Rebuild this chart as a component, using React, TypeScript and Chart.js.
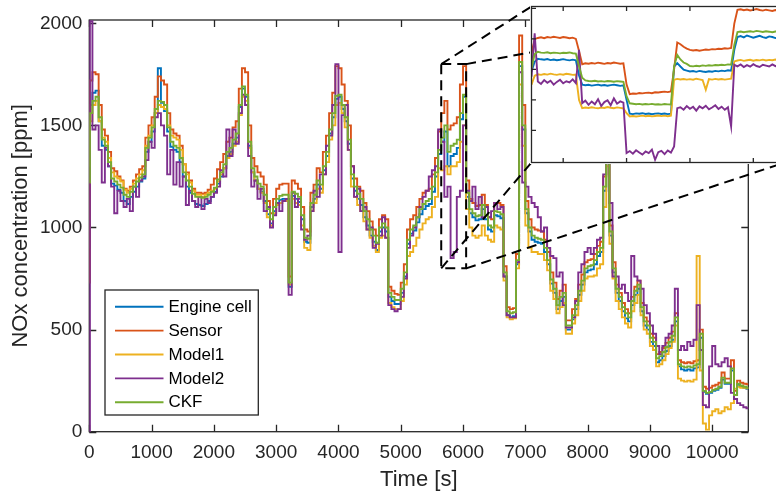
import React, { useEffect, useRef } from "react";
import { Chart, registerables } from "chart.js";

Chart.register(...registerables);

// ---------- main plot data ----------
const TIME = [
  0, 10, 50, 100, 150, 200, 250, 300, 350, 400, 450,
  500, 550, 600, 650, 700, 750, 800, 850, 900, 950,
  1000, 1050, 1100, 1150, 1200, 1250, 1300, 1350, 1400, 1450,
  1500, 1550, 1600, 1650, 1700, 1750, 1800, 1850, 1900, 1950,
  2000, 2050, 2100, 2150, 2200, 2250, 2300, 2350, 2400, 2450,
  2500, 2550, 2600, 2650, 2700, 2750, 2800, 2850, 2900, 2950,
  3000, 3050, 3100, 3150, 3200, 3250, 3300, 3350, 3400, 3450,
  3500, 3550, 3600, 3650, 3700, 3750, 3800, 3850, 3900, 3950,
  4000, 4050, 4100, 4150, 4200, 4250, 4300, 4350, 4400, 4450,
  4500, 4550, 4600, 4650, 4700, 4750, 4800, 4850, 4900, 4950,
  5000, 5050, 5100, 5150, 5200, 5250, 5300, 5350, 5400, 5450,
  5500, 5550, 5600, 5650, 5700, 5750, 5800, 5850, 5900, 5950,
  6000, 6050, 6100, 6150, 6200, 6250, 6300, 6350, 6400, 6450,
  6500, 6550, 6600, 6650, 6700, 6750, 6800, 6850, 6900, 6950,
  7000, 7050, 7100, 7150, 7200, 7250, 7300, 7350, 7400, 7450,
  7500, 7550, 7600, 7650, 7700, 7750, 7800, 7850, 7900, 7950,
  8000, 8050, 8100, 8150, 8200, 8250, 8300, 8350, 8400, 8450,
  8500, 8550, 8600, 8650, 8700, 8750, 8800, 8850, 8900, 8950,
  9000, 9050, 9100, 9150, 9200, 9250, 9300, 9350, 9400, 9450,
  9500, 9550, 9600, 9650, 9700, 9750, 9800, 9850, 9900, 9950,
  10000, 10050, 10100, 10150, 10200, 10250, 10300, 10350, 10400, 10450,
  10500, 10550, 10580,
];

const ENGINE_CELL = [
  900, 1600, 1660, 1670, 1520, 1400, 1380, 1300, 1215, 1205, 1185,
  1170, 1130, 1115, 1150, 1175, 1200, 1225, 1240, 1370, 1420,
  1470, 1560, 1780, 1610, 1570, 1470, 1395, 1380, 1370, 1320,
  1250, 1200, 1170, 1130, 1115, 1110, 1105, 1115, 1130, 1150,
  1175, 1215, 1250, 1290, 1350, 1370, 1410, 1440, 1590, 1680,
  1640, 1400, 1270, 1230, 1190, 1175, 1130, 1065, 1020, 1080,
  1120, 1135, 1140, 1140, 710, 1155, 1140, 1125, 1040, 930,
  925, 1100, 1140, 1210, 1190, 1280, 1350, 1460, 1540, 1630,
  1640, 1580, 1520, 1410, 1240, 1180, 1140, 1110, 1050, 1010,
  960, 930, 890, 980, 1000, 980, 660, 640, 625, 625,
  680, 760, 920, 970, 985, 1025, 1065, 1090, 1105, 1115,
  1175, 1250, 1360, 1420, 1470, 1300, 1350, 1360, 1390, 1530,
  1640, 1150, 1070, 1050, 1035, 1040, 1090, 1040, 990, 980,
  1060, 1055, 1045, 760, 570, 560, 565, 820, 1790, 1480,
  1070, 980, 940, 930, 925, 920, 880, 820, 725, 680,
  600, 640, 660, 500, 500, 550, 600, 670, 720, 780,
  790, 795, 820, 860, 880, 1180, 1370, 960, 780, 680,
  640, 590, 555, 540, 620, 670, 700, 590, 520, 500,
  440, 420, 340, 350, 370, 395, 420, 450, 540, 320,
  305, 300, 305, 300, 310, 315, 460, 195, 185, 190,
  200, 205, 215, 255, 235, 235, 300, 180, 230, 220,
  215, 210, 208,
];

const SENSOR = [
  730, 1720, 1760, 1750, 1600, 1480, 1450, 1370, 1290, 1275, 1250,
  1230, 1190, 1180, 1200, 1230, 1260, 1285, 1300, 1440, 1500,
  1540, 1640, 1740, 1720, 1700, 1560, 1480, 1460, 1450, 1400,
  1310, 1270, 1230, 1190, 1170, 1170, 1165, 1170, 1185, 1210,
  1240, 1285, 1320, 1360, 1420, 1440, 1490, 1520, 1680, 1780,
  1760, 1500, 1340, 1300, 1270, 1250, 1210, 1130, 1070, 1140,
  1190, 1210, 1215, 1215, 760, 1230, 1215, 1190, 1100, 990,
  980, 1170, 1210, 1290, 1270, 1370, 1450, 1560, 1660, 1790,
  1780, 1700, 1620, 1500, 1300, 1240, 1200, 1180, 1120, 1080,
  1030, 990, 960, 1040, 1060, 1040, 710, 690, 675, 670,
  730, 820, 990, 1040, 1060, 1100, 1140, 1170, 1180, 1190,
  1260, 1340, 1470, 1560, 1620, 1480, 1500, 1510, 1540, 1700,
  1790, 1230, 1140, 1120, 1105, 1110, 1160, 1110, 1050, 1040,
  1120, 1120, 1110, 810, 610, 600, 605, 870, 1940, 1600,
  1130, 1040, 1000, 990, 985, 980, 940, 880, 780, 730,
  650, 690, 720, 545, 545, 600, 650, 720, 770, 830,
  840, 845, 870, 910, 930, 1250, 1450, 1010, 830, 720,
  680, 630, 600, 580, 660, 710, 740, 630, 560, 540,
  480, 460, 380, 390, 410, 435, 460, 490, 580, 350,
  340, 335, 340, 335, 345, 350, 500, 220, 210, 215,
  225, 230, 240, 290, 260, 260, 350, 200, 250, 240,
  235, 232, 230,
];

const MODEL1 = [
  1300, 1520, 1600, 1620, 1520, 1440, 1420, 1340, 1270, 1250, 1240,
  1225, 1185, 1170, 1190, 1215, 1240, 1260, 1280, 1400, 1450,
  1500, 1560, 1600, 1590, 1580, 1500, 1450, 1440, 1430, 1380,
  1310, 1260, 1220, 1180, 1160, 1160, 1150, 1160, 1170, 1180,
  1190, 1225, 1260, 1290, 1340, 1360, 1400, 1420, 1550, 1640,
  1620, 1390, 1270, 1230, 1190, 1170, 1120, 1050, 1010, 1070,
  1110, 1120, 1130, 1130, 720, 1140, 1120, 1110, 1010, 900,
  890, 1080, 1120, 1190, 1170, 1260, 1320, 1430, 1500, 1600,
  1610, 1560, 1490, 1380, 1200, 1150, 1110, 1080, 1030, 990,
  950, 910, 880, 950, 960, 950, 630, 610, 600, 600,
  640, 720, 860, 880, 910, 950, 990, 1020, 1040, 1050,
  1100, 1150, 1290, 1280, 1300, 1260, 1300, 1300, 1320, 1420,
  1500, 1090, 1000, 960, 950, 960, 1010, 960, 940, 930,
  1010, 1000, 990, 740, 560, 550, 555, 800, 1700, 1400,
  1010, 900, 880, 880, 870, 870, 840, 790, 690, 650,
  580, 610, 630, 480, 480, 530, 570, 640, 690, 750,
  760, 760, 765, 800, 820, 1100, 1300, 920, 750, 640,
  600, 560, 530, 510, 590, 630, 670, 570, 500, 480,
  420, 400, 320, 330, 350, 380, 410, 440, 520, 260,
  250, 245, 250, 245, 255, 860, 300, 40, 10, 80,
  100, 110, 90, 100, 120, 110, 140, 210, 220, 215,
  215, 212, 210,
];

const MODEL2 = [
  0, 2010, 1480, 1500, 1380, 1220, 1390, 1300, 1200, 1070, 1180,
  1130, 1100, 1140, 1080, 1200, 1150, 1230, 1250, 1330, 1420,
  1390, 1540, 1560, 1500, 1450, 1260, 1380, 1210, 1320, 1200,
  1250, 1110, 1180, 1130, 1100, 1150, 1090, 1140, 1120, 1150,
  1170, 1200, 1280, 1250, 1480, 1350, 1480, 1410, 1560, 1650,
  1600, 1350, 1200, 1230, 1140, 1190, 1080, 1100, 1000, 1060,
  1120, 1080, 1130, 1140, 670, 1170, 1100, 1140, 990, 940,
  960, 1080, 1180, 1150, 1260, 1260, 1400, 1450, 1600, 1800,
  880, 1550, 1600, 1380, 1300, 1150, 1190, 1080, 1100, 990,
  1000, 900, 920, 960, 1050, 950, 620, 600, 590, 600,
  660, 750, 900, 960, 1000, 1050, 1100, 1150, 1180, 1250,
  1280, 1300, 1480, 1420, 1150, 1200, 850, 880, 1150, 1180,
  1500, 1180, 1130, 1200, 1090, 1150, 1050, 1100, 1050, 1080,
  1120, 1090, 1100, 760, 570, 560, 560, 830, 1760, 1220,
  1200, 1150, 1120, 1100, 1050, 980, 1000, 900, 860, 850,
  760, 780, 620, 510, 510, 560, 640, 780, 820, 880,
  900, 870, 900, 940, 950, 1260, 1420, 1120, 760, 760,
  700, 720, 680, 640, 860, 760, 740, 700, 620, 580,
  520, 480, 420, 380, 420, 460, 480, 520, 700, 400,
  420, 400, 440, 420, 450, 620, 400, 130, 120, 320,
  420, 330, 320, 340, 360, 320, 190, 160, 140, 130,
  120, 115, 110,
];

const CKF = [
  1220, 1560, 1620, 1640, 1540, 1430, 1400, 1320, 1240, 1225, 1210,
  1195, 1160, 1150, 1175, 1200, 1225, 1245, 1260, 1390, 1440,
  1490, 1580, 1620, 1615, 1600, 1490, 1420, 1400, 1390, 1340,
  1270, 1230, 1200, 1165, 1150, 1150, 1145, 1150, 1160, 1175,
  1195, 1235, 1270, 1310, 1370, 1390, 1430, 1460, 1600, 1690,
  1650, 1420, 1290, 1250, 1215, 1200, 1160, 1090, 1040, 1100,
  1140, 1155, 1160, 1160, 730, 1175, 1165, 1150, 1060, 950,
  945, 1120, 1160, 1230, 1210, 1300, 1370, 1480, 1560, 1645,
  1650, 1600, 1540, 1430, 1260, 1200, 1165, 1140, 1080, 1040,
  990, 960, 925, 1000, 1020, 1000, 680, 660, 645, 645,
  700, 780, 940, 990, 1010, 1050, 1090, 1115, 1130, 1140,
  1200, 1270, 1380, 1440, 1500, 1370, 1400, 1410, 1430, 1560,
  1650, 1170, 1090, 1070, 1055, 1060, 1110, 1060, 1010, 1000,
  1080, 1075, 1065, 780, 590, 580, 585, 840, 1810, 1500,
  1090, 1000, 960, 950, 945, 940, 900, 840, 745, 700,
  620, 660, 680, 520, 520, 570, 620, 690, 740, 800,
  810, 815, 840, 880, 900, 1200, 1390, 980, 800, 700,
  660, 610, 580, 560, 640, 690, 720, 610, 540, 520,
  460, 440, 360, 370, 390, 415, 440, 470, 560, 330,
  320, 315, 320, 315, 325, 330, 480, 200, 190, 195,
  205, 210, 220, 265, 240, 240, 310, 180, 235, 225,
  220, 215, 212,
];

const SERIES_LABELS = ["Engine cell", "Sensor", "Model1", "Model2", "CKF"];
const SERIES_COLORS = ["#0072BD", "#D95319", "#EDB120", "#7E2F8E", "#77AC30"];
const SERIES_VALUES = [ENGINE_CELL, SENSOR, MODEL1, MODEL2, CKF];

const X_TICKS = [0, 1000, 2000, 3000, 4000, 5000, 6000, 7000, 8000, 9000, 10000];
const Y_TICKS = [0, 500, 1000, 1500, 2000];
const X_RANGE = [0, 10580];
const Y_RANGE = [0, 2016];
const X_TITLE = "Time [s]";
const Y_TITLE = "NOx concentration [ppm]";

// zoom window (data coordinates)
const ZOOM_X = [5650, 6050];
const ZOOM_Y = [800, 1800];

// ---------- inset data ----------
const INSET_TIME = [
  5650, 5655, 5660, 5665, 5670, 5675, 5680, 5685, 5690, 5695,
  5700, 5705, 5710, 5715, 5720, 5725, 5730, 5735, 5740, 5745,
  5750, 5755, 5760, 5765, 5770, 5775, 5780, 5785, 5790, 5795,
  5800, 5805, 5810, 5815, 5820, 5825, 5830, 5835, 5840, 5845,
  5850, 5855, 5860, 5865, 5870, 5875, 5880, 5885, 5890, 5895,
  5900, 5905, 5910, 5915, 5920, 5925, 5930, 5935, 5940, 5945,
  5950, 5955, 5960, 5965, 5970, 5975, 5980, 5985, 5990, 5995,
  6000, 6005, 6010, 6015, 6020, 6025, 6030, 6035, 6040, 6045,
  6050,
];
const INSET_ENGINE = [
  1386, 1450, 1470, 1466, 1463, 1468, 1461, 1465, 1460, 1463,
  1467, 1462, 1459, 1464, 1460, 1360, 1300, 1296, 1299, 1294,
  1297, 1300, 1295, 1298, 1293, 1297, 1300, 1296, 1292, 1296,
  1200, 1110, 1107, 1112, 1109, 1113, 1108, 1111, 1106, 1110,
  1112, 1108, 1111, 1107, 1110, 1419, 1441, 1419, 1398, 1392,
  1386, 1389, 1384, 1390, 1386, 1383, 1388, 1385, 1390, 1387,
  1392, 1389, 1394, 1391, 1528, 1612, 1618, 1610, 1622, 1615,
  1608, 1614, 1620, 1611, 1606, 1616, 1612, 1605, 1610, 1603,
  1607,
];
const INSET_SENSOR = [
  1506, 1598, 1606, 1610, 1604, 1612, 1608, 1614, 1610, 1606,
  1612, 1609, 1604, 1608, 1600, 1520, 1434, 1440, 1437, 1442,
  1438, 1444, 1440, 1436, 1442, 1439, 1445, 1441, 1437, 1440,
  1300, 1238, 1242, 1240, 1245, 1243, 1246, 1248, 1244, 1250,
  1249, 1252, 1254, 1251, 1256, 1400, 1576, 1565, 1548, 1536,
  1528, 1524, 1527, 1522, 1526, 1530, 1528, 1533, 1531, 1535,
  1534, 1538, 1536, 1540, 1700, 1790, 1794, 1788, 1792, 1786,
  1790, 1795, 1789, 1785, 1791, 1787, 1783, 1789, 1785, 1780,
  1784,
];
const INSET_MODEL1 = [
  1299, 1358, 1368, 1364, 1370, 1366, 1372, 1367, 1364, 1369,
  1365, 1371, 1368, 1364, 1366, 1200, 1146, 1150, 1147, 1152,
  1148, 1145, 1150, 1147, 1153, 1149, 1146, 1151, 1148, 1144,
  1113, 1092, 1095, 1091, 1094, 1097, 1093, 1096, 1092, 1095,
  1098, 1094, 1097, 1093, 1096, 1332, 1338, 1334, 1337, 1333,
  1336, 1332, 1339, 1335, 1330, 1266, 1336, 1333, 1338, 1334,
  1337, 1333, 1336, 1339, 1452, 1458, 1462, 1456, 1460, 1463,
  1457, 1461, 1459, 1464, 1458, 1462, 1460, 1465, 1459, 1462,
  1460,
];
const INSET_MODEL2 = [
  1353, 1637, 1321, 1305, 1330, 1312, 1326, 1300, 1318, 1332,
  1309, 1322, 1315, 1335, 1310, 1528, 1179, 1195, 1168, 1190,
  1172, 1205, 1160, 1186, 1198, 1165, 1210, 1175, 1190, 1182,
  852, 865, 848, 870, 856, 842, 862, 851, 874, 808,
  858, 866, 845, 869, 855, 895, 1146, 1152, 1136, 1160,
  1142, 1155, 1130, 1158, 1145, 1162, 1138, 1150, 1165, 1141,
  1156, 1135, 1152, 1026, 1430, 1420, 1432, 1415, 1428, 1418,
  1434, 1422, 1416, 1430, 1425, 1419, 1433, 1421, 1427, 1418,
  1424,
];
const INSET_CKF = [
  1408, 1500, 1515, 1510, 1508, 1512, 1506, 1510, 1508, 1505,
  1509, 1507, 1511, 1506, 1504, 1420, 1345, 1328, 1324, 1322,
  1325, 1321, 1323, 1320, 1324, 1322, 1319, 1323, 1321, 1318,
  1225, 1178, 1175, 1172, 1174, 1170, 1173, 1171, 1174, 1170,
  1172, 1169, 1173, 1171, 1170, 1420, 1495, 1465, 1445, 1436,
  1422, 1420, 1424, 1421, 1426, 1423, 1427, 1425, 1429, 1427,
  1430, 1428, 1433, 1431, 1560, 1645, 1648, 1643, 1647, 1650,
  1646, 1652, 1649, 1645, 1650, 1647, 1643, 1648, 1651, 1646,
  1648,
];
const INSET_VALUES = [INSET_ENGINE, INSET_SENSOR, INSET_MODEL1, INSET_MODEL2, INSET_CKF];
const INSET_X_RANGE = [5650, 6050];
const INSET_Y_RANGE = [790, 1812];
const INSET_X_TICKS = [5700, 5800, 5900, 6000];
const INSET_Y_TICKS = [1000, 1200, 1400, 1600, 1800];

// ---------- layout / style ----------
const W = 776;
const H = 495;
const FONT = '"Liberation Sans", Arial, Helvetica, sans-serif';
const AXIS_COLOR = "#262626";
const PLOT_LEFT = 89.3;
const PLOT_TOP = 20;
const PLOT_RIGHT = 748.3;
const PLOT_BOTTOM = 431.7;
const TICK_LEN = 7;

const INSET_CANVAS = { left: 530, top: 5, width: 257, height: 159 };
const INSET_PAD = { left: 1.5, top: 1.5, right: 2, bottom: 1.5 };

const LEGEND_BOX = { left: 105, top: 290, right: 258.3, bottom: 415 };

const framePlugin = {
  id: "frame",
  beforeDatasetsDraw(chart: any) {
    const { ctx, chartArea: a, scales } = chart;
    ctx.save();
    ctx.strokeStyle = AXIS_COLOR;
    ctx.lineWidth = 1.3;
    ctx.strokeRect(a.left, a.top, a.right - a.left, a.bottom - a.top);
    ctx.beginPath();
    for (const v of X_TICKS) {
      const x = Math.round(scales.x.getPixelForValue(v)) + 0.5;
      ctx.moveTo(x, a.bottom);
      ctx.lineTo(x, a.bottom - TICK_LEN);
      ctx.moveTo(x, a.top);
      ctx.lineTo(x, a.top + TICK_LEN);
    }
    for (const v of Y_TICKS) {
      const y = Math.round(scales.y.getPixelForValue(v)) + 0.5;
      ctx.moveTo(a.left, y);
      ctx.lineTo(a.left + TICK_LEN, y);
      ctx.moveTo(a.right, y);
      ctx.lineTo(a.right - TICK_LEN, y);
    }
    ctx.stroke();
    ctx.restore();
  },
};

const overlayPlugin = {
  id: "overlay",
  afterDatasetsDraw(chart: any) {
    const { ctx, scales } = chart;
    const x0 = scales.x.getPixelForValue(ZOOM_X[0]);
    const x1 = scales.x.getPixelForValue(ZOOM_X[1]);
    const y0 = scales.y.getPixelForValue(ZOOM_Y[1]);
    const y1 = scales.y.getPixelForValue(ZOOM_Y[0]);
    const iL = INSET_CANVAS.left + INSET_PAD.left;
    const iT = INSET_CANVAS.top + INSET_PAD.top;
    const iR = INSET_CANVAS.left + INSET_CANVAS.width - INSET_PAD.right;
    const iB = INSET_CANVAS.top + INSET_CANVAS.height - INSET_PAD.bottom;
    ctx.save();
    ctx.strokeStyle = "#000000";
    ctx.lineWidth = 2;
    ctx.setLineDash([10, 6]);
    ctx.strokeRect(x0, y0, x1 - x0, y1 - y0);
    const lines = [
      [x0, y0, iL, iT],
      [x1, y0, iR, iT],
      [x0, y1, iL, iB],
      [x1, y1, iR, iB],
    ];
    for (const [ax, ay, bx, by] of lines) {
      ctx.beginPath();
      ctx.moveTo(ax, ay);
      ctx.lineTo(bx, by);
      ctx.stroke();
    }
    ctx.restore();

    // legend
    const b = LEGEND_BOX;
    ctx.save();
    ctx.fillStyle = "#ffffff";
    ctx.fillRect(b.left, b.top, b.right - b.left, b.bottom - b.top);
    ctx.strokeStyle = AXIS_COLOR;
    ctx.lineWidth = 1.3;
    ctx.strokeRect(b.left, b.top, b.right - b.left, b.bottom - b.top);
    ctx.font = `17px ${FONT}`;
    ctx.textBaseline = "middle";
    ctx.textAlign = "left";
    chart.data.datasets.forEach((ds: any, i: number) => {
      const y = 306.7 + i * 23.9;
      ctx.strokeStyle = ds.borderColor;
      ctx.lineWidth = 1.9;
      ctx.beginPath();
      ctx.moveTo(115, y);
      ctx.lineTo(163.5, y);
      ctx.stroke();
      ctx.fillStyle = "#000000";
      ctx.fillText(ds.label, 168.5, y + 0.5);
    });
    ctx.restore();
  },
};

const insetPlugin = {
  id: "insetFrame",
  beforeDraw(chart: any) {
    const { ctx } = chart;
    ctx.save();
    ctx.fillStyle = "#ffffff";
    ctx.fillRect(0, 0, chart.width, chart.height);
    ctx.restore();
  },
  afterDatasetsDraw(chart: any) {
    const { ctx, chartArea: a, scales } = chart;
    ctx.save();
    ctx.strokeStyle = AXIS_COLOR;
    ctx.lineWidth = 1.3;
    ctx.strokeRect(a.left, a.top, a.right - a.left, a.bottom - a.top);
    ctx.beginPath();
    for (const v of INSET_X_TICKS) {
      const x = scales.x.getPixelForValue(v);
      ctx.moveTo(x, a.bottom);
      ctx.lineTo(x, a.bottom - 4.5);
      ctx.moveTo(x, a.top);
      ctx.lineTo(x, a.top + 4.5);
    }
    for (const v of INSET_Y_TICKS) {
      const y = scales.y.getPixelForValue(v);
      ctx.moveTo(a.left, y);
      ctx.lineTo(a.left + 4.5, y);
      ctx.moveTo(a.right, y);
      ctx.lineTo(a.right - 4.5, y);
    }
    ctx.stroke();
    ctx.restore();
  },
};

export default function App() {
  const mainRef = useRef<HTMLCanvasElement | null>(null);
  const insetRef = useRef<HTMLCanvasElement | null>(null);

  useEffect(() => {
    const main = new Chart(mainRef.current as HTMLCanvasElement, {
      type: "line",
      data: {
        datasets: SERIES_LABELS.map((label, k) => ({
          label,
          data: TIME.map((t, i) => ({ x: t, y: SERIES_VALUES[k][i] })),
          borderColor: SERIES_COLORS[k],
          backgroundColor: SERIES_COLORS[k],
          borderWidth: 1.9,
          pointRadius: 0,
          stepped: "before",
          fill: false,
          order: SERIES_LABELS.length - k,
        })),
      } as any,
      options: {
        animation: false,
        responsive: false,
        maintainAspectRatio: false,
        events: [],
        layout: { padding: { left: 0, top: PLOT_TOP, right: W - PLOT_RIGHT, bottom: 0 } },
        scales: {
          x: {
            type: "linear",
            min: X_RANGE[0],
            max: X_RANGE[1],
            afterFit: (s: any) => {
              s.height = H - PLOT_BOTTOM;
            },
            afterBuildTicks: (s: any) => {
              s.ticks = X_TICKS.map((v) => ({ value: v }));
            },
            grid: { display: false, drawTicks: false },
            border: { display: false },
            ticks: {
              autoSkip: false,
              maxRotation: 0,
              padding: 10,
              color: AXIS_COLOR,
              font: { family: FONT, size: 19 },
              callback: (v: any) => String(v),
            },
            title: {
              display: true,
              text: X_TITLE,
              color: AXIS_COLOR,
              font: { family: FONT, size: 22 },
              padding: { top: 0, bottom: 1.5 },
            },
          },
          y: {
            type: "linear",
            min: Y_RANGE[0],
            max: Y_RANGE[1],
            afterFit: (s: any) => {
              s.width = PLOT_LEFT;
            },
            afterBuildTicks: (s: any) => {
              s.ticks = Y_TICKS.map((v) => ({ value: v }));
            },
            grid: { display: false, drawTicks: false },
            border: { display: false },
            ticks: {
              padding: 7,
              color: AXIS_COLOR,
              font: { family: FONT, size: 19 },
              callback: (v: any) => String(v),
            },
            title: {
              display: true,
              text: Y_TITLE,
              color: AXIS_COLOR,
              font: { family: FONT, size: 22 },
              padding: { top: 8, bottom: 0 },
            },
          },
        },
        plugins: { legend: { display: false }, tooltip: { enabled: false } },
      } as any,
      plugins: [framePlugin, overlayPlugin],
    });

    const inset = new Chart(insetRef.current as HTMLCanvasElement, {
      type: "line",
      data: {
        datasets: SERIES_LABELS.map((label, k) => ({
          label,
          data: INSET_TIME.map((t, i) => ({ x: t, y: INSET_VALUES[k][i] })),
          borderColor: SERIES_COLORS[k],
          borderWidth: 1.9,
          pointRadius: 0,
          fill: false,
          tension: 0,
          order: SERIES_LABELS.length - k,
        })),
      } as any,
      options: {
        animation: false,
        responsive: false,
        maintainAspectRatio: false,
        events: [],
        layout: { padding: INSET_PAD },
        scales: {
          x: { type: "linear", display: false, min: INSET_X_RANGE[0], max: INSET_X_RANGE[1] },
          y: { type: "linear", display: false, min: INSET_Y_RANGE[0], max: INSET_Y_RANGE[1] },
        },
        plugins: { legend: { display: false }, tooltip: { enabled: false } },
      } as any,
      plugins: [insetPlugin],
    });

    return () => {
      main.destroy();
      inset.destroy();
    };
  }, []);

  return (
    <div
      style={{
        position: "fixed",
        left: 0,
        top: 0,
        width: W,
        height: H,
        overflow: "hidden",
        background: "#ffffff",
      }}
    >
      <canvas
        ref={mainRef}
        width={W}
        height={H}
        style={{ position: "absolute", left: 0, top: 0, width: W, height: H }}
      />
      <canvas
        ref={insetRef}
        width={INSET_CANVAS.width}
        height={INSET_CANVAS.height}
        style={{
          position: "absolute",
          left: INSET_CANVAS.left,
          top: INSET_CANVAS.top,
          width: INSET_CANVAS.width,
          height: INSET_CANVAS.height,
        }}
      />
    </div>
  );
}
